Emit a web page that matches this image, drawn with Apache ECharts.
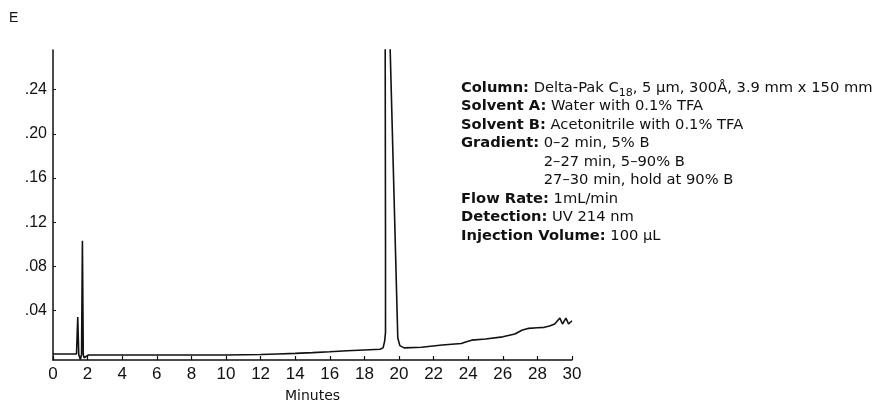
<!DOCTYPE html>
<html>
<head>
<meta charset="utf-8">
<script src="https://cdn.jsdelivr.net/npm/echarts@6/dist/echarts.min.js"></script>
<style>
html,body{margin:0;padding:0;background:#fff;}
#chart{width:879px;height:408px;}
</style>
</head>
<body>
<div id="chart"></div>
<script>
// ---- data ----
var timeMin = [0, 1.36, 1.43, 1.49, 1.58, 1.65, 1.70, 1.75, 1.80, 1.90, 2.05, 4, 6, 8, 10, 12, 13, 14, 15, 16, 17, 18, 18.9, 19.08, 19.17, 19.22, 19.22, 19.20, 19.32, 19.45, 19.93, 20.05, 20.3, 21.3, 22.5, 23.6, 23.9, 24.2, 25.0, 26.0, 26.7, 27.1, 27.5, 28.0, 28.4, 28.7, 29.0, 29.3, 29.45, 29.65, 29.8, 30.0];
var absorbance = [0.0005, 0.0005, 0.034, 0.0, -0.0045, 0.0, 0.103, 0.0, -0.003, -0.002, -0.0005, -0.0005, -0.0005, -0.0005, -0.0005, 0.0, 0.0005, 0.001, 0.0017, 0.0025, 0.0034, 0.0041, 0.0047, 0.006, 0.012, 0.02, 0.1, 0.30, 0.40, 0.30, 0.015, 0.008, 0.006, 0.0065, 0.0086, 0.010, 0.0115, 0.013, 0.014, 0.016, 0.0186, 0.022, 0.0237, 0.0242, 0.0246, 0.0258, 0.0276, 0.033, 0.0276, 0.033, 0.0276, 0.0306];
var yTickValues = [0.04, 0.08, 0.12, 0.16, 0.20, 0.24];
var yTickLabels = ['.04', '.08', '.12', '.16', '.20', '.24'];
var xTickValues = [0, 2, 4, 6, 8, 10, 12, 14, 16, 18, 20, 22, 24, 26, 28, 30];

var panelLabel = 'E';
var xAxisTitle = 'Minutes';
var conditions = [
  ['Column:', ' Delta-Pak C', '18', ', 5 µm, 300Å, 3.9 mm x 150 mm'],
  ['Solvent A:', ' Water with 0.1% TFA'],
  ['Solvent B:', ' Acetonitrile with 0.1% TFA'],
  ['Gradient:', ' 0–2 min, 5% B'],
  ['', '2–27 min, 5–90% B'],
  ['', '27–30 min, hold at 90% B'],
  ['Flow Rate:', ' 1mL/min'],
  ['Detection:', ' UV 214 nm'],
  ['Injection Volume:', ' 100 µL']
];

var FONT = 'DejaVu Sans';
var TXT = 14.7;
var GRID = {left: 53, right: 307, top: 50, bottom: 48};
var chart = echarts.init(document.getElementById('chart'), null, {renderer: 'canvas'});

var cv = document.createElement('canvas').getContext('2d');
function measure(s, bold, size) {
  cv.font = (bold ? 'bold ' : '') + size + 'px "' + FONT + '"';
  return cv.measureText(s).width;
}

var textX = 461, textY0 = 88, lineH = 18.5;
var indentX = textX + measure('Gradient:', true, TXT) + measure(' ', false, TXT);
var graphics = [];
graphics.push({type: 'text', x: 9, y: 18, style: {text: panelLabel, font: '14px "Liberation Sans"', fill: '#111', textVerticalAlign: 'middle'}});
var axisCenterX = GRID.left + (879 - GRID.left - GRID.right) / 2;
graphics.push({type: 'text', x: axisCenterX, y: 396, style: {text: xAxisTitle, font: '14px "' + FONT + '"', fill: '#111', textAlign: 'center', textVerticalAlign: 'middle'}});
conditions.forEach(function (c, i) {
  var y = textY0 + i * lineH;
  if (c[0] === '') {
    graphics.push({type: 'text', x: indentX, y: y, style: {text: c[1], font: TXT + 'px "' + FONT + '"', fill: '#111', textVerticalAlign: 'middle'}});
    return;
  }
  graphics.push({type: 'text', x: textX, y: y, style: {text: c[0], font: 'bold ' + TXT + 'px "' + FONT + '"', fill: '#111', textVerticalAlign: 'middle'}});
  var x2 = textX + measure(c[0], true, TXT);
  graphics.push({type: 'text', x: x2, y: y, style: {text: c[1], font: TXT + 'px "' + FONT + '"', fill: '#111', textVerticalAlign: 'middle'}});
  if (c.length > 2) {
    var x3 = x2 + measure(c[1], false, TXT);
    graphics.push({type: 'text', x: x3, y: y + 5, style: {text: c[2], font: '11px "' + FONT + '"', fill: '#111', textVerticalAlign: 'middle'}});
    var x4 = x3 + measure(c[2], false, 11);
    graphics.push({type: 'text', x: x4, y: y, style: {text: c[3], font: TXT + 'px "' + FONT + '"', fill: '#111', textVerticalAlign: 'middle'}});
  }
});

var seriesData = timeMin.map(function (t, i) { return [t, absorbance[i]]; });

chart.setOption({
  animation: false,
  backgroundColor: '#fff',
  grid: {left: GRID.left, right: GRID.right, top: GRID.top, bottom: GRID.bottom, containLabel: false},
  xAxis: {
    type: 'value', min: 0, max: 30, interval: 2,
    axisLine: {show: true, onZero: false, lineStyle: {color: '#111', width: 1.5}},
    axisTick: {show: true, inside: true, length: 4, lineStyle: {color: '#111', width: 1.2}},
    axisLabel: {show: true, margin: 6, fontSize: 17, color: '#111', fontFamily: 'Liberation Sans',
      customValues: xTickValues},
    splitLine: {show: false}
  },
  yAxis: {
    type: 'value', min: -0.005, max: 0.276,
    axisLine: {show: true, onZero: false, lineStyle: {color: '#111', width: 1.5}},
    axisTick: {show: true, inside: true, length: 3, customValues: yTickValues, lineStyle: {color: '#111'}},
    axisLabel: {show: true, margin: 6, fontSize: 16, color: '#111', fontFamily: 'Liberation Sans',
      customValues: yTickValues,
      formatter: function (v) {
        var idx = yTickValues.findIndex(function (t) { return Math.abs(t - v) < 1e-9; });
        return idx >= 0 ? yTickLabels[idx] : '';
      }},
    splitLine: {show: false}
  },
  series: [{
    type: 'line', data: seriesData, showSymbol: false, clip: true,
    lineStyle: {color: '#111', width: 1.6}
  }],
  graphic: graphics
});
</script>
</body>
</html>
